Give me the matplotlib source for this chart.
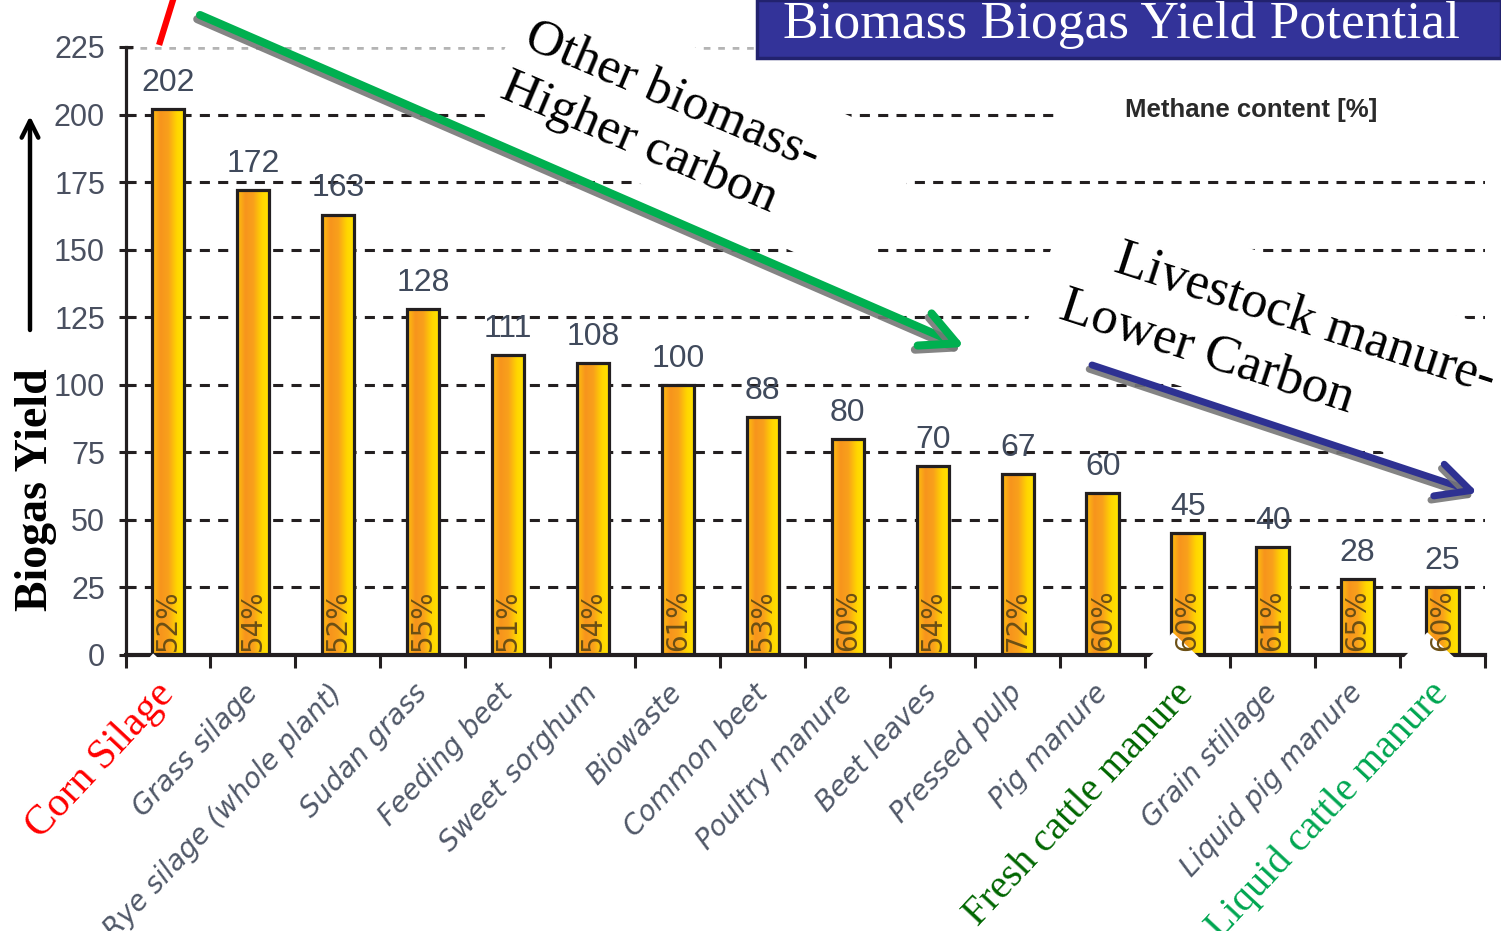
import numpy as np
import matplotlib
matplotlib.use('Agg')
import matplotlib.pyplot as plt
import matplotlib.patheffects as pe
from matplotlib.colors import LinearSegmentedColormap
from matplotlib.patches import Rectangle, FancyArrowPatch
from matplotlib.lines import Line2D

# biogas yield per substrate and methane content
categories = ['Corn Silage', 'Grass silage', 'Rye silage (whole plant)', 'Sudan grass',
              'Feeding beet', 'Sweet sorghum', 'Biowaste', 'Common beet',
              'Poultry manure', 'Beet leaves', 'Pressed pulp', 'Pig manure',
              'Fresh cattle manure', 'Grain stillage', 'Liquid pig manure',
              'Liquid cattle manure']
biogas_yield = [202, 172, 163, 128, 111, 108, 100, 88, 80, 70, 67, 60, 45, 40, 28, 25]
methane_pct = [52, 54, 52, 55, 51, 54, 61, 53, 60, 54, 72, 60, 60, 61, 65, 60]
yticks = list(range(0, 226, 25))
highlight = {0: '#ff0000', 12: '#006600', 15: '#00a651'}

SANS = ['Liberation Sans', 'DejaVu Sans']
SERIF = ['Liberation Serif', 'DejaVu Serif']
INK = '#231f20'

W, H = 1501, 931
fig = plt.figure(figsize=(W / 100, H / 100), dpi=100)


def fpos(x, y):
    # pixel position measured from the top-left corner -> figure fraction
    return x / W, 1 - y / H


def inch(x, y):
    return x / 100, (H - y) / 100


ax = fig.add_axes([125.5 / W, 1 - 655 / H, (1485 - 125.5) / W, (655 - 47) / H])

# grid lines behind the bars
for v in yticks[1:-1]:
    ax.axhline(v, color=INK, lw=2.2, ls=(0, (3.3, 2.7)), zorder=0)
ax.axhline(225, color='#b4b4b4', lw=4, ls=(0, (1.2, 1.4)), zorder=0)

x = np.arange(len(categories))
bars = ax.bar(x, biogas_yield, width=0.38, facecolor='none', edgecolor=INK,
              lw=2.3, zorder=3)

grad = np.linspace(0, 1, 64).reshape(1, -1)
cmap = LinearSegmentedColormap.from_list(
    'barfill', ['#ffc20e', '#f7941d', '#f9a11b', '#ffd400', '#ffe600'])
for b in bars:
    x0 = b.get_x()
    im = ax.imshow(grad, cmap=cmap, aspect='auto', zorder=2,
                   extent=[x0, x0 + b.get_width(), 0, b.get_height()])
    im.set_clip_path(b)

for xi, v, p in zip(x, biogas_yield, methane_pct):
    ax.annotate(str(v), (xi, v), xytext=(0, 8), textcoords='offset points',
                ha='center', va='bottom', fontsize=23, family=SANS,
                color='#404a5c', zorder=4)
    ax.text(xi, 1.5, f'{p}%', rotation=90, ha='center', va='bottom',
            fontsize=20, color='#6b4f14', zorder=4)

ax.set_xlim(-0.5, 15.5)
ax.set_ylim(0, 225)

ax.spines[['top', 'right']].set_visible(False)
ax.spines['left'].set_linewidth(2.3)
ax.spines['bottom'].set_linewidth(3)
ax.spines['left'].set_color(INK)
ax.spines['bottom'].set_color(INK)

ax.set_yticks(yticks)
ax.tick_params(axis='y', direction='inout', length=9.4, width=2.2, color=INK,
               pad=10, labelsize=22, labelcolor='#4a5060')
for lab in ax.get_yticklabels():
    lab.set_fontfamily(SANS)

ax.set_xticks(x)
ax.set_xticklabels(categories, rotation=47, ha='right', va='center',
                   rotation_mode='anchor', fontsize=20, color='#505868',
                   fontstyle='italic')
ax.set_xticks(np.arange(-0.5, 16, 1), minor=True)
ax.tick_params(axis='x', which='major', length=0, pad=24)
ax.tick_params(axis='x', which='minor', length=9, width=2.2, color=INK)
for i, lab in enumerate(ax.get_xticklabels()):
    if i in highlight:
        lab.set_color(highlight[i])
        lab.set_fontfamily(SERIF)
        lab.set_fontstyle('normal')
        lab.set_fontsize(30 if i == 0 else 29)
        lab.set_bbox(dict(facecolor='white', edgecolor='none',
                          pad=11 if i == 0 else 22))
ax.xaxis.set_zorder(3.5)

fig.text(*fpos(36, 490), 'Biogas Yield', rotation=90, ha='center',
         va='center', fontsize=33, fontweight='bold', family=SERIF)

# white panels behind the call-out texts
for xy, w, h, ang in [(inch(477, 111), 4.22, 1.47, -24),
                      (inch(1023, 335), 5.0, 1.525, -18),
                      (inch(1055, 135), 4.6, 0.45, 0)]:
    fig.add_artist(Rectangle(xy, w, h, angle=ang, transform=fig.dpi_scale_trans,
                             facecolor='white', edgecolor='none', zorder=1))

# title banner
fig.add_artist(Rectangle(fpos(757, 58), (W - 757) / W, 58 / H,
                         transform=fig.transFigure, facecolor='#333399',
                         edgecolor='#22226e', lw=2.5, zorder=2))
fig.text(*fpos(783, 38), 'Biomass Biogas Yield Potential', ha='left',
         va='baseline', fontsize=38.5, color='white', family=SERIF, zorder=3)

fig.text(*fpos(1125, 117), 'Methane content [%]', ha='left', va='baseline',
         fontsize=18.5, fontweight='bold', color='#2a2a2a', family=SANS)

callouts = [('Other biomass-', (522, 47), -23, 37),
            ('Higher carbon', (498, 97), -23, 37),
            ('Livestock manure-', (1112, 271), -18, 38),
            ('Lower Carbon', (1057, 318), -18, 38)]
for txt, (px, py), rot, size in callouts:
    fig.text(*fpos(px, py), txt, rotation=rot, rotation_mode='anchor',
             ha='left', va='baseline', fontsize=size, family=SERIF, zorder=3)

shadow = [pe.SimpleLineShadow(offset=(-2, -3), shadow_color='#777777', alpha=0.9),
          pe.Normal()]
arrows = [((200, 15), (965, 347), '#00b050', 5.8, 63),
          ((1092, 365), (1478, 493), '#2e3192', 5.0, 60),
          ((30, 330), (30, 116), 'black', 3.2, 30)]
for (xa, ya), (xb, yb), col, lw, ms in arrows:
    arr = FancyArrowPatch(fpos(xa, ya), fpos(xb, yb), transform=fig.transFigure,
                          arrowstyle='->', mutation_scale=ms, lw=lw, color=col,
                          shrinkA=0, shrinkB=0, zorder=4,
                          path_effects=shadow if col != 'black' else None)
    fig.add_artist(arr)

fig.add_artist(Line2D([160 / W, 173 / W], [1 - 42 / H, 1.0],
                      transform=fig.transFigure, color='red', lw=4.5, zorder=4))

fig.savefig('out.png', dpi=100)
